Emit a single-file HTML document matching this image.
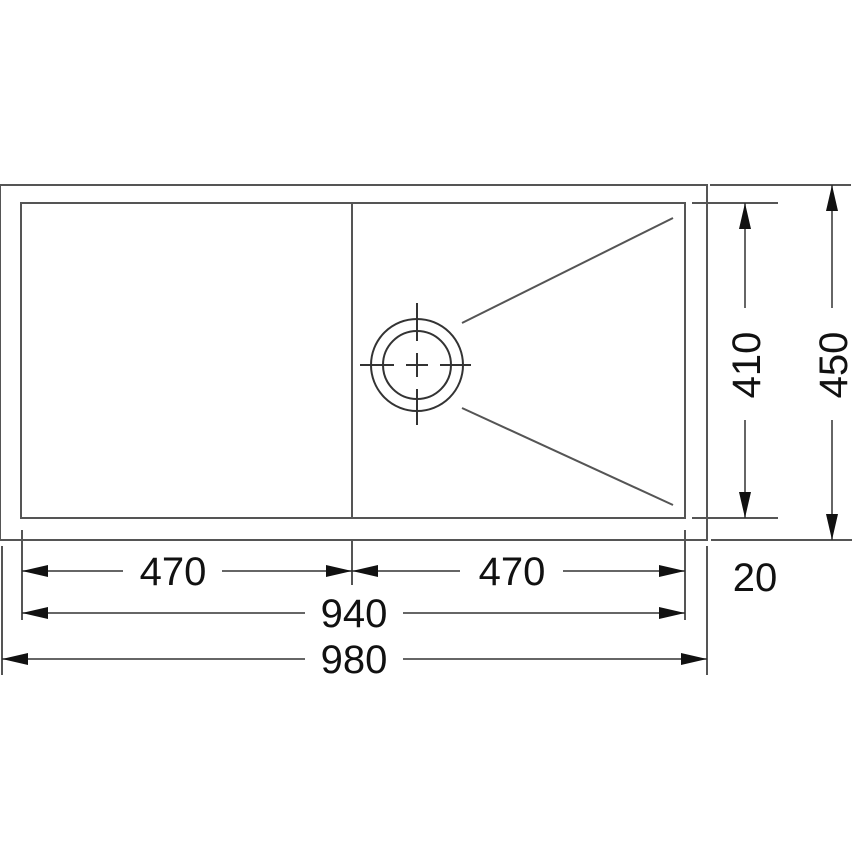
<!DOCTYPE html>
<html><head><style>body{margin:0;background:#fff}svg{display:block}</style></head><body>
<svg width="860" height="860" viewBox="0 0 860 860" xmlns="http://www.w3.org/2000/svg">
<defs>
<marker id="a" markerWidth="27" markerHeight="14" refX="26" refY="7" orient="auto" markerUnits="userSpaceOnUse"><path d="M0,1 L26,7 L0,13 Z" fill="#111"/></marker>
<marker id="b" markerWidth="27" markerHeight="14" refX="1" refY="7" orient="auto" markerUnits="userSpaceOnUse"><path d="M27,1 L1,7 L27,13 Z" fill="#111"/></marker>
</defs>
<g stroke="#555" stroke-width="2" fill="none">
<rect x="0" y="185" width="707" height="355"/>
<rect x="21" y="203" width="664" height="315"/>
<line x1="352" y1="203" x2="352" y2="518"/>
<line x1="462" y1="323" x2="673" y2="218"/>
<line x1="462" y1="408" x2="673" y2="505"/>
<circle cx="417" cy="365" r="46" stroke="#333"/>
<circle cx="417" cy="365" r="34" stroke="#333"/>
<g stroke="#333">
<line x1="417" y1="303" x2="417" y2="341"/><line x1="417" y1="353" x2="417" y2="377"/><line x1="417" y1="389" x2="417" y2="425"/>
<line x1="360" y1="365" x2="394" y2="365"/><line x1="406" y1="365" x2="428" y2="365"/><line x1="440" y1="365" x2="471" y2="365"/>
</g>
<line x1="2" y1="546" x2="2" y2="675"/>
<line x1="22" y1="530" x2="22" y2="620"/>
<line x1="352" y1="540" x2="352" y2="585"/>
<line x1="685" y1="530" x2="685" y2="620"/>
<line x1="707" y1="546" x2="707" y2="675"/>
<line x1="692" y1="203" x2="778" y2="203"/>
<line x1="692" y1="518" x2="778" y2="518"/>
<line x1="710" y1="185" x2="851" y2="185"/>
<line x1="711" y1="540" x2="852" y2="540"/>
</g>
<g stroke="#333" stroke-width="1.5">
<line x1="22" y1="571" x2="123" y2="571" marker-start="url(#b)"/>
<line x1="222" y1="571" x2="352" y2="571" marker-end="url(#a)"/>
<line x1="352" y1="571" x2="460" y2="571" marker-start="url(#b)"/>
<line x1="563" y1="571" x2="685" y2="571" marker-end="url(#a)"/>
<line x1="22" y1="613" x2="305" y2="613" marker-start="url(#b)"/>
<line x1="403" y1="613" x2="685" y2="613" marker-end="url(#a)"/>
<line x1="2" y1="659" x2="305" y2="659" marker-start="url(#b)"/>
<line x1="403" y1="659" x2="707" y2="659" marker-end="url(#a)"/>
<line x1="745" y1="203" x2="745" y2="308" marker-start="url(#b)"/>
<line x1="745" y1="420" x2="745" y2="518" marker-end="url(#a)"/>
<line x1="832" y1="185" x2="832" y2="308" marker-start="url(#b)"/>
<line x1="832" y1="420" x2="832" y2="540" marker-end="url(#a)"/>
</g>
<g font-family="Liberation Sans, sans-serif" font-size="40" fill="#111" text-anchor="middle">
<text x="173" y="585">470</text>
<text x="512" y="585">470</text>
<text x="354" y="627">940</text>
<text x="354" y="673">980</text>
<text x="755" y="591">20</text>
<text transform="translate(760,365) rotate(-90)">410</text>
<text transform="translate(847,365) rotate(-90)">450</text>
</g>
</svg>
</body></html>
